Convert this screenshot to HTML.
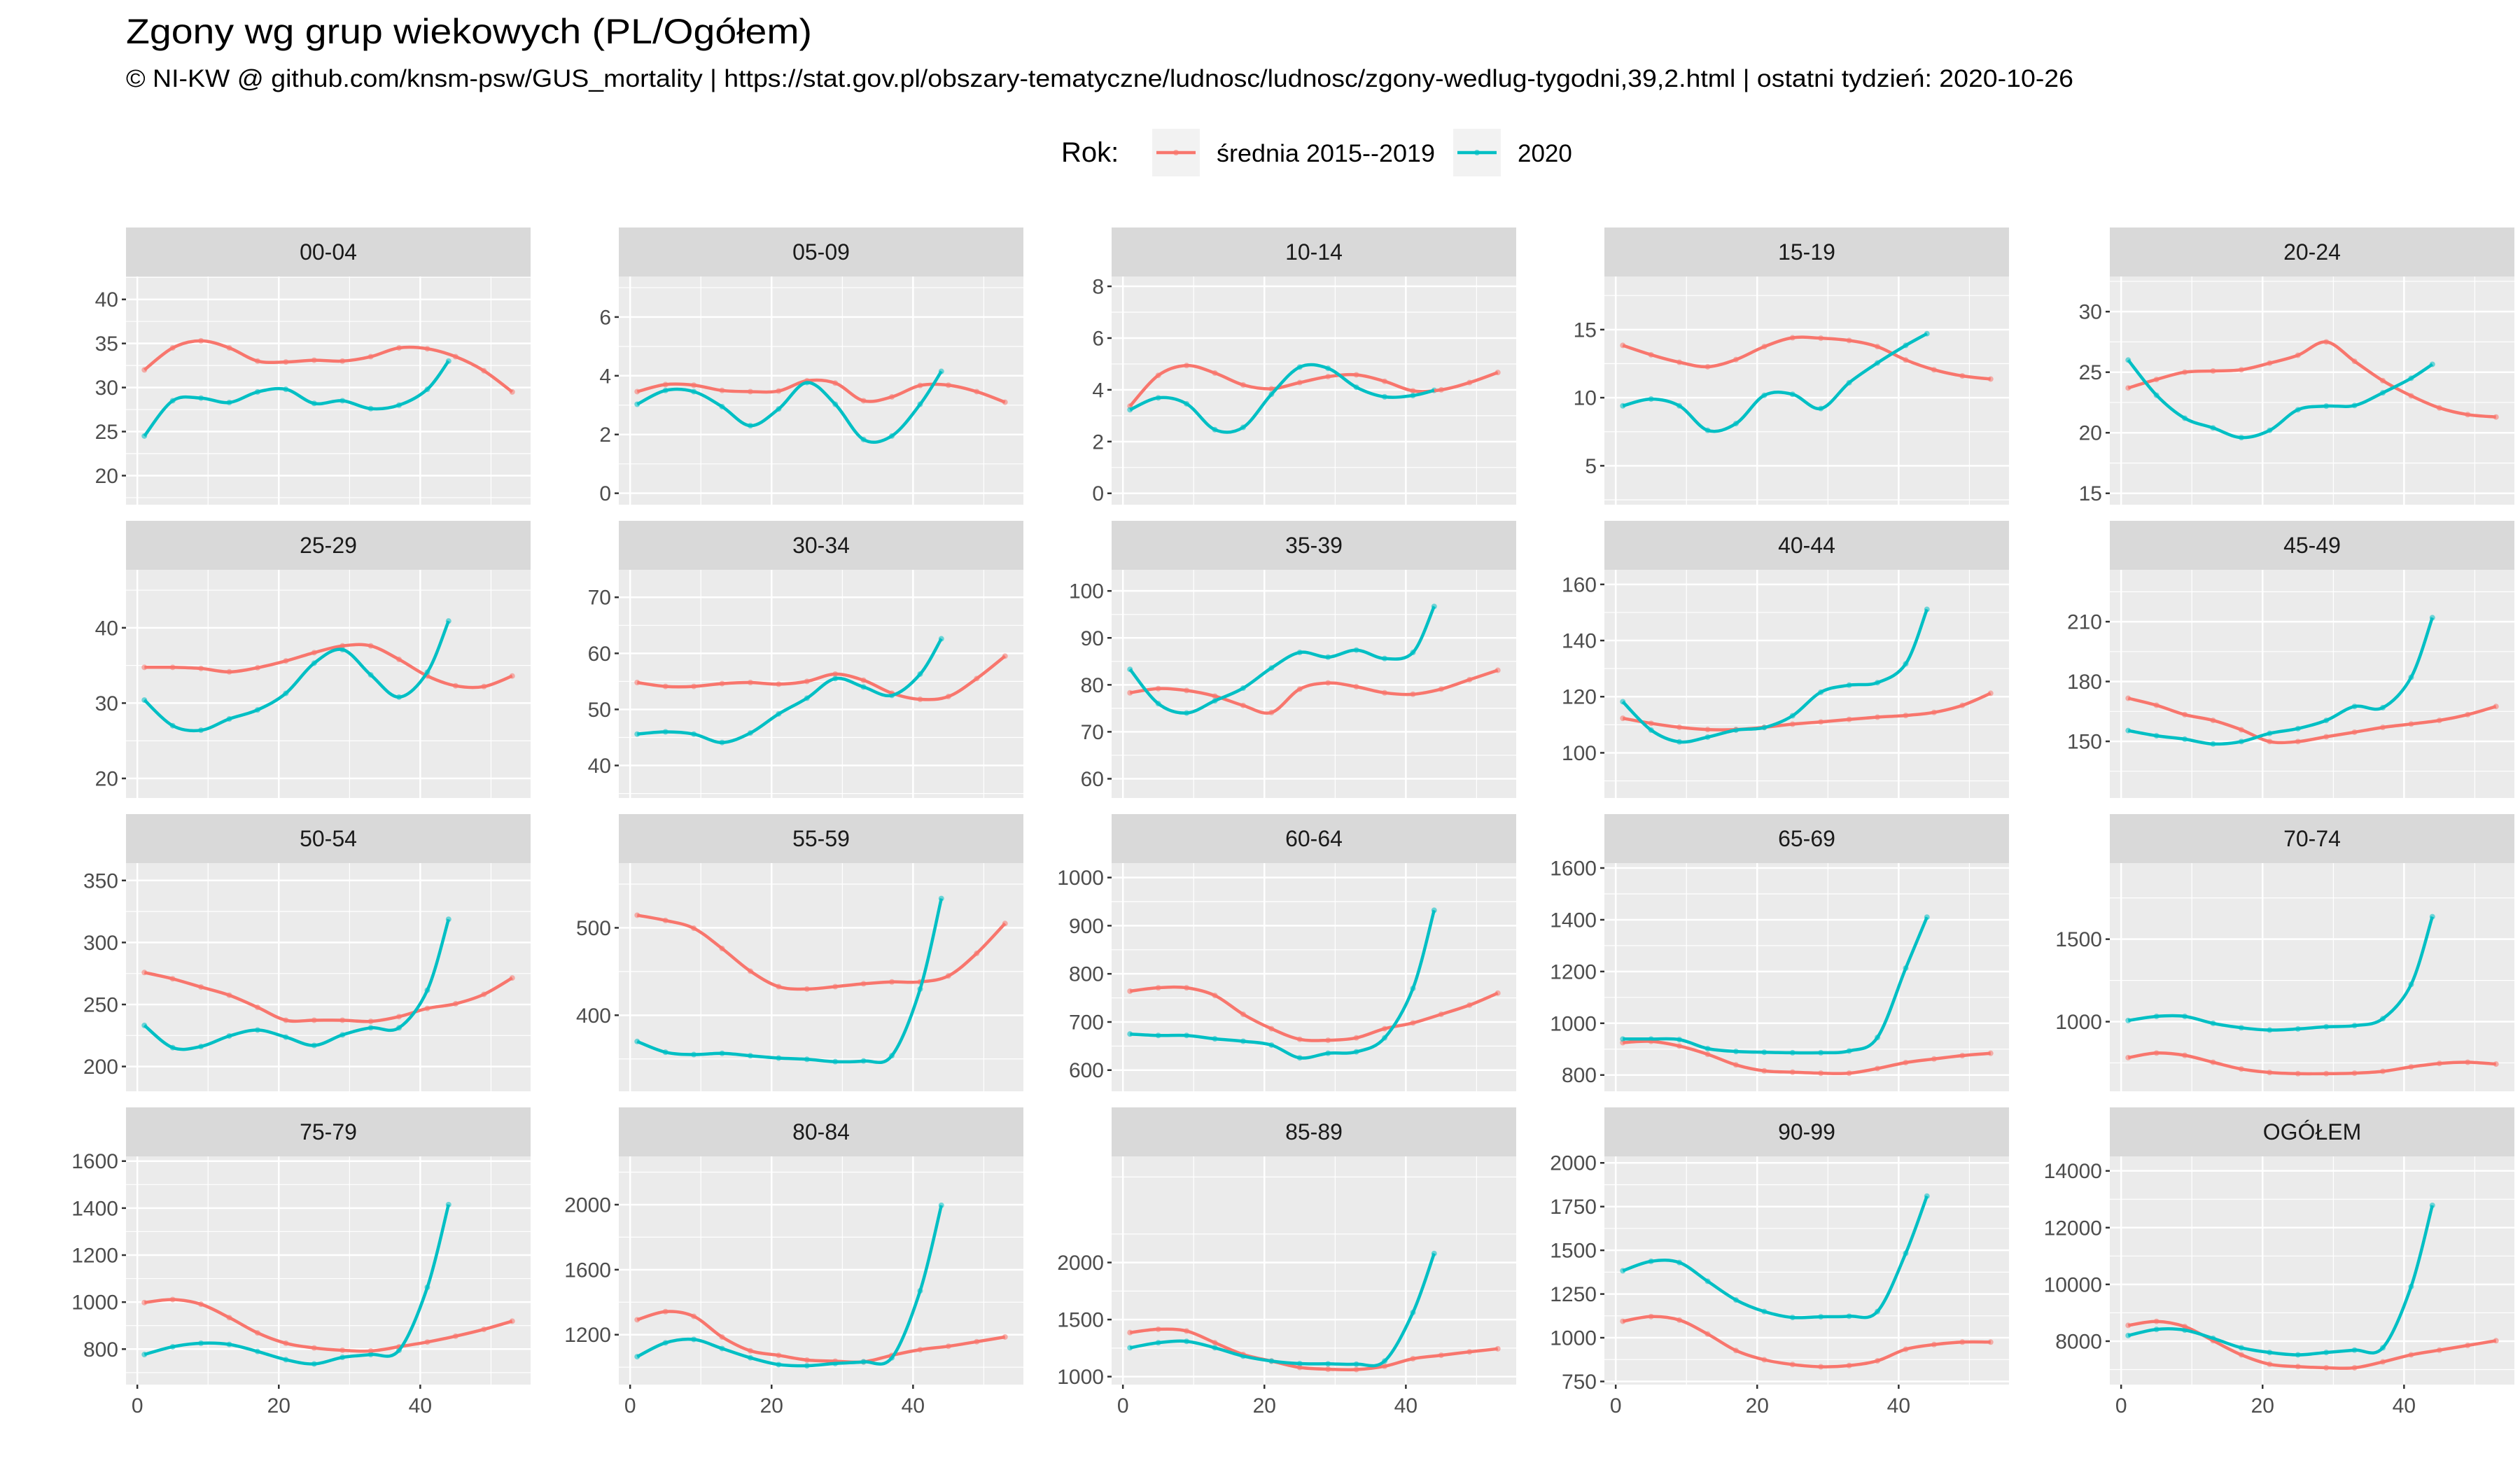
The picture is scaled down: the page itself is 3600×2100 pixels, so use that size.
<!DOCTYPE html>
<html><head><meta charset="utf-8">
<style>
html,body{margin:0;padding:0;background:#fff;}
svg{display:block;font-family:"Liberation Sans",sans-serif;}
</style></head>
<body>
<svg id="chart" xmlns="http://www.w3.org/2000/svg" width="3600" height="2100" viewBox="0 0 3600 2100">
<rect x="0" y="0" width="3600" height="2100" fill="#fff"/>
<text x="180" y="62" font-size="50" fill="#000" textLength="980" lengthAdjust="spacingAndGlyphs">Zgony wg grup wiekowych (PL/Ogółem)</text>
<text x="180" y="124" font-size="35" fill="#000" textLength="2782" lengthAdjust="spacingAndGlyphs">© NI-KW @ github.com/knsm-psw/GUS_mortality | https://stat.gov.pl/obszary-tematyczne/ludnosc/ludnosc/zgony-wedlug-tygodni,39,2.html | ostatni tydzień: 2020-10-26</text>
<g>
<text x="1516" y="231" font-size="40" fill="#000">Rok:</text>
<rect x="1646" y="184" width="68" height="68" fill="#F2F2F2"/>
<line x1="1652" y1="218" x2="1708" y2="218" stroke="#F8766D" stroke-width="4.5"/>
<circle cx="1680" cy="218" r="4" fill="#F8766D" opacity="0.6"/>
<text x="1738" y="231" font-size="35" fill="#000" textLength="312" lengthAdjust="spacingAndGlyphs">średnia 2015--2019</text>
<rect x="2076" y="184" width="68" height="68" fill="#F2F2F2"/>
<line x1="2082" y1="218" x2="2138" y2="218" stroke="#00BFC4" stroke-width="4.5"/>
<circle cx="2110" cy="218" r="4" fill="#00BFC4" opacity="0.6"/>
<text x="2168" y="231" font-size="35" fill="#000">2020</text>
</g>
<g id="panels"></g>
</svg>
<script>
// ---- data ----
const panelNames = ["00-04","05-09","10-14","15-19","20-24","25-29","30-34","35-39","40-44","45-49","50-54","55-59","60-64","65-69","70-74","75-79","80-84","85-89","90-99","OGÓŁEM"];
const yTicks = [
 [20,25,30,35,40],[0,2,4,6],[0,2,4,6,8],[5,10,15],[15,20,25,30],
 [20,30,40],[40,50,60,70],[60,70,80,90,100],[100,120,140,160],[150,180,210],
 [200,250,300,350],[400,500],[600,700,800,900,1000],[800,1000,1200,1400,1600],[1000,1500],
 [800,1000,1200,1400,1600],[1200,1600,2000],[1000,1500,2000],[750,1000,1250,1500,1750,2000],[8000,10000,12000,14000]
];
const yLimLo = [16.7,-0.39,-0.44,2.14,14.06, 17.4,34.2,55.9,83.9,121.6, 180,313,556,737,578, 649,893,930,732,6470];
const yLimHi = [42.6,7.38,8.38,18.9,32.9, 47.7,74.9,104.5,165.2,236, 364,574,1030,1619,1961, 1620,2297,2930,2037,14510];
const xTicks = [0,20,40];
const xLimLo = -1.6, xLimHi = 55.6;
const redWeeks = [1,5,9,13,17,21,25,29,33,37,41,45,49,53];
const cyanWeeks = [1,5,9,13,17,21,25,29,33,37,41,44];
const redSeries = [
 [32,34.5,35.3,34.5,33.0,32.9,33.1,33.0,33.5,34.5,34.4,33.5,31.9,29.5],
 [3.46,3.7,3.68,3.5,3.46,3.48,3.83,3.75,3.15,3.28,3.67,3.68,3.46,3.1],
 [3.37,4.56,4.94,4.65,4.19,4.04,4.28,4.51,4.58,4.33,3.96,4.0,4.28,4.67],
 [13.84,13.15,12.6,12.27,12.8,13.75,14.4,14.37,14.2,13.75,12.77,12.05,11.6,11.37],
 [23.7,24.4,25.0,25.1,25.2,25.75,26.4,27.5,25.9,24.3,23.05,22.05,21.5,21.3],
 [34.75,34.75,34.6,34.15,34.7,35.6,36.7,37.6,37.6,35.8,33.6,32.3,32.2,33.6],
 [54.8,54.1,54.1,54.6,54.8,54.5,55.0,56.3,55.2,52.9,51.8,52.3,55.5,59.5],
 [78.3,79.2,78.8,77.6,75.6,74.1,79.1,80.4,79.6,78.3,78.0,79.1,81.1,83.1],
 [112.3,110.5,109.1,108.3,108.3,109.1,110.2,111.0,111.9,112.7,113.3,114.4,116.9,121.2],
 [171.6,168.1,163.4,160.5,155.8,149.9,149.9,152.3,154.6,157,158.7,160.5,163.4,167.5],
 [275.8,270.7,264.1,257.5,247.7,237.3,237.3,237.3,236.4,240.2,246.8,250.6,258.2,271.4],
 [514.4,508.4,499.5,476.3,450.4,432.7,430,432.7,436,438.1,438.1,445,470.8,504.9],
 [764,771,771,755,716,686,664,662,667,686,698,716,735,760],
 [925,930,912,880,839,816,811,807,807,825,848,862,875,884],
 [782,810,796,754,713,692,685,685,688,699,726,747,754,743],
 [998,1011,991,934,869,825,805,795,792,810,830,855,884,919],
 [1292,1342,1313,1186,1101,1073,1044,1037,1033,1073,1108,1129,1157,1186],
 [1386,1415,1400,1297,1194,1136,1080,1065,1062,1091,1157,1187,1217,1244],
 [1094,1121,1101,1021,927,874,847,834,841,868,934,961,975,975],
 [8556,8697,8515,8017,7519,7187,7104,7063,7063,7270,7519,7685,7851,8017]
];
const cyanSeries = [
 [24.5,28.5,28.8,28.3,29.5,29.8,28.2,28.5,27.6,28.0,29.8,33],
 [3.03,3.5,3.46,2.95,2.3,2.87,3.77,3.03,1.83,1.95,3.03,4.15],
 [3.23,3.69,3.46,2.46,2.55,3.83,4.88,4.83,4.1,3.73,3.78,3.98],
 [9.4,9.9,9.4,7.6,8.1,10.17,10.25,9.2,11.1,12.55,13.84,14.7],
 [26.0,23.1,21.2,20.4,19.6,20.2,21.9,22.2,22.25,23.3,24.5,25.65],
 [30.4,27.0,26.4,27.9,29.1,31.3,35.3,37.1,33.75,30.8,34.1,40.9],
 [45.6,46.0,45.6,44.1,45.8,49.2,52.0,55.5,54.0,52.5,56.3,62.6],
 [83.3,76.0,74.0,76.6,79.3,83.6,86.9,85.9,87.4,85.6,86.9,96.7],
 [118.2,108.1,103.9,105.6,108.1,109.0,113.2,121.6,124.1,125.0,131.7,151.1],
 [155.4,152.8,151.1,148.7,149.9,154,156.4,160.5,167.5,166.9,182.1,212],
 [233.1,215.2,216.1,224.6,229.4,223.7,217.0,225.5,231.2,231.2,261.5,318.7],
 [370,357.7,355,356.4,353.7,351,349.6,346.9,347.7,353.7,430,533.5],
 [675,672,672,665,660,652,625.5,635,638,667,769.6,932],
 [939,939,937,902,891,888,886,886,893,945,1213,1410],
 [1007,1032,1032,990,963,949,956,969,976,1018,1226,1636],
 [777,810,825,820,790,755,737,765,777,795,1063,1415],
 [1065,1150,1171,1115,1058,1016,1009,1023,1033,1058,1470,1996],
 [1253,1297,1309,1253,1180,1136,1114,1112,1109,1136,1562,2079],
 [1383,1437,1430,1323,1216,1150,1116,1120,1123,1150,1483,1810],
 [8199,8415,8390,8100,7768,7602,7519,7602,7685,7768,9925,12785]
];
// ---- layout ----
const NS = "http://www.w3.org/2000/svg";
const colLeft = [180,884,1588,2292,3014];
const panelW = 578;
const stripTop = [325,744,1163,1582];
const stripH = 70, panelH = 326;
const RED = "#F8766D", CYAN = "#00BFC4";
const root = document.getElementById("panels");
function mk(tag, attrs, parent){
  const e = document.createElementNS(NS, tag);
  for (const k in attrs) e.setAttribute(k, attrs[k]);
  (parent||root).appendChild(e);
  return e;
}
function smoothPath(pts){
  let d = "M"+pts[0][0].toFixed(1)+","+pts[0][1].toFixed(1);
  for (let i=0;i<pts.length-1;i++){
    const p0=pts[Math.max(0,i-1)], p1=pts[i], p2=pts[i+1], p3=pts[Math.min(pts.length-1,i+2)];
    const c1=[p1[0]+(p2[0]-p0[0])/6, p1[1]+(p2[1]-p0[1])/6];
    const c2=[p2[0]-(p3[0]-p1[0])/6, p2[1]-(p3[1]-p1[1])/6];
    d += " C"+c1[0].toFixed(1)+","+c1[1].toFixed(1)+" "+c2[0].toFixed(1)+","+c2[1].toFixed(1)+" "+p2[0].toFixed(1)+","+p2[1].toFixed(1);
  }
  return d;
}
panelNames.forEach((name, i) => {
  const col = i % 5, row = Math.floor(i / 5);
  const L = colLeft[col], T = stripTop[row] + stripH, B = T + panelH, R = L + panelW;
  const lo = yLimLo[i], hi = yLimHi[i];
  const xs = w => L + (w - xLimLo) / (xLimHi - xLimLo) * panelW;
  const ys = v => B - (v - lo) / (hi - lo) * panelH;
  const g = mk("g", {});
  
  
  // strip
  const strip = mk("rect", {x:L, y:stripTop[row], width:panelW, height:stripH, fill:"#D9D9D9"}, g);
  
  
  const st = mk("text", {x:L+panelW/2, y:stripTop[row]+stripH/2+11, "font-size":32, fill:"#1A1A1A", "text-anchor":"middle"}, g);
  st.textContent = name;
  
  
  const bg = mk("rect", {x:L, y:T, width:panelW, height:panelH, fill:"#EBEBEB"}, g);
  
  
  // grid: minor
  const tk = yTicks[i], step = tk[1] - tk[0];
  for (let v = tk[0] - step/2; v <= hi; v += step) {
    if (v < lo) continue;
    mk("line", {x1:L, x2:R, y1:ys(v), y2:ys(v), stroke:"#fff", "stroke-width":1.2}, g);
  }
  [10,30,50].forEach(w => mk("line", {x1:xs(w), x2:xs(w), y1:T, y2:B, stroke:"#fff", "stroke-width":1.2}, g));
  // grid: major
  tk.forEach(v => mk("line", {x1:L, x2:R, y1:ys(v), y2:ys(v), stroke:"#fff", "stroke-width":2.5}, g));
  xTicks.forEach(w => mk("line", {x1:xs(w), x2:xs(w), y1:T, y2:B, stroke:"#fff", "stroke-width":2.5}, g));
  // y axis ticks & labels
  tk.forEach(v => {
    mk("line", {x1:L-6, x2:L, y1:ys(v), y2:ys(v), stroke:"#333", "stroke-width":2.5}, g);
    const t = mk("text", {x:L-11, y:ys(v)+10.5, "font-size":30, fill:"#4D4D4D", "text-anchor":"end"}, g);
    t.textContent = String(v);
    
    
  });
  // x axis on bottom row
  if (row === 3) {
    xTicks.forEach(w => {
      mk("line", {x1:xs(w), x2:xs(w), y1:B, y2:B+6, stroke:"#333", "stroke-width":2.5}, g);
      const t = mk("text", {x:xs(w), y:B+40, "font-size":30, fill:"#4D4D4D", "text-anchor":"middle"}, g);
      t.textContent = String(w);
      
      
    });
  }
  // series
  const rp = redWeeks.map((w, k) => [xs(w), ys(redSeries[i][k])]);
  const cp = cyanWeeks.map((w, k) => [xs(w), ys(cyanSeries[i][k])]);
  rp.forEach(p => {
    const c = mk("circle", {cx:p[0], cy:p[1], r:4, fill:RED, opacity:0.55}, g);
    
    
  });
  cp.forEach(p => {
    const c = mk("circle", {cx:p[0], cy:p[1], r:4, fill:CYAN, opacity:0.55}, g);
    
    
  });
  const rl = mk("path", {d:smoothPath(rp), fill:"none", stroke:RED, "stroke-width":4.5}, g);
  
  
  const cl = mk("path", {d:smoothPath(cp), fill:"none", stroke:CYAN, "stroke-width":4.5}, g);
  
  
});
</script>
</body></html>
